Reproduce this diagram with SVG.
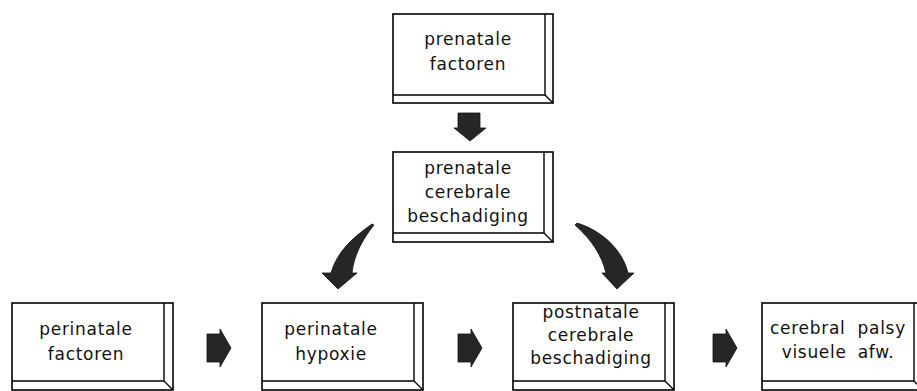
<svg xmlns="http://www.w3.org/2000/svg" width="917" height="391" viewBox="0 0 917 391">
<style>
.box{fill:#fff;stroke:#000;stroke-width:1.6;stroke-linejoin:miter}
.edge{fill:none;stroke:#000;stroke-width:1.4}
.lbl{font-family:"DejaVu Sans",sans-serif;font-size:17px;fill:#111;text-anchor:middle;letter-spacing:0.7px}
.arr{fill:#262626;stroke:#111;stroke-width:0.8}
</style>
<rect width="917" height="391" fill="#fff"/>
<g id="n-prenatale-factoren">
<rect class="box" x="393" y="14" width="160" height="89"/>
<path class="edge" d="M545 14V95H393M545 95L553 103"/>
<text class="lbl" x="468" y="45">prenatale</text>
<text class="lbl" x="468" y="70">factoren</text>
</g>
<g id="n-prenatale-cerebrale">
<rect class="box" x="393" y="152" width="160" height="90"/>
<path class="edge" d="M544 152V233H393M544 233L553 242"/>
<text class="lbl" x="468" y="174">prenatale</text>
<text class="lbl" x="468" y="198">cerebrale</text>
<text class="lbl" x="468" y="222">beschadiging</text>
</g>
<g id="n-perinatale-factoren">
<rect class="box" x="12" y="303" width="161" height="87"/>
<path class="edge" d="M164 303V381H12M164 381L173 390"/>
<text class="lbl" x="86" y="335">perinatale</text>
<text class="lbl" x="86" y="360">factoren</text>
</g>
<g id="n-perinatale-hypoxie">
<rect class="box" x="262" y="303" width="161" height="87"/>
<path class="edge" d="M414 303V381H262M414 381L423 390"/>
<text class="lbl" x="331" y="335">perinatale</text>
<text class="lbl" x="331" y="360">hypoxie</text>
</g>
<g id="n-postnatale">
<rect class="box" x="513" y="303" width="161" height="87"/>
<path class="edge" d="M665 303V381H513M665 381L674 390"/>
<text class="lbl" x="591" y="318">postnatale</text>
<text class="lbl" x="591" y="341">cerebrale</text>
<text class="lbl" x="591" y="364">beschadiging</text>
</g>
<g id="n-cerebral-palsy">
<rect class="box" x="762" y="303" width="161" height="87"/>
<path class="edge" d="M914 303V381H762M914 381L923 390"/>
<text class="lbl" x="838" y="334" word-spacing="6">cerebral palsy</text>
<text class="lbl" x="838" y="358" word-spacing="5">visuele afw.</text>
</g>
<g id="connectors">
<path class="arr" d="M458 113H480V128H486L470 141L454 128H458Z"/>
<path class="arr" d="M372 224C352 238 337 252 331 273H322L338 289L357 273H352C354 255 362 240 374 225Z"/>
<path class="arr" d="M577 223C600 230 622 248 628 273H634L617 289L602 273H606C602 256 592 240 575 225Z"/>
<path class="arr" d="M207 334H220V329L231 348L220 367V362H207Z"/>
<path class="arr" d="M458 334H471V329L482 348L471 367V362H458Z"/>
<path class="arr" d="M713 334H726V329L737 348L726 367V362H713Z"/>
</g>
</svg>
